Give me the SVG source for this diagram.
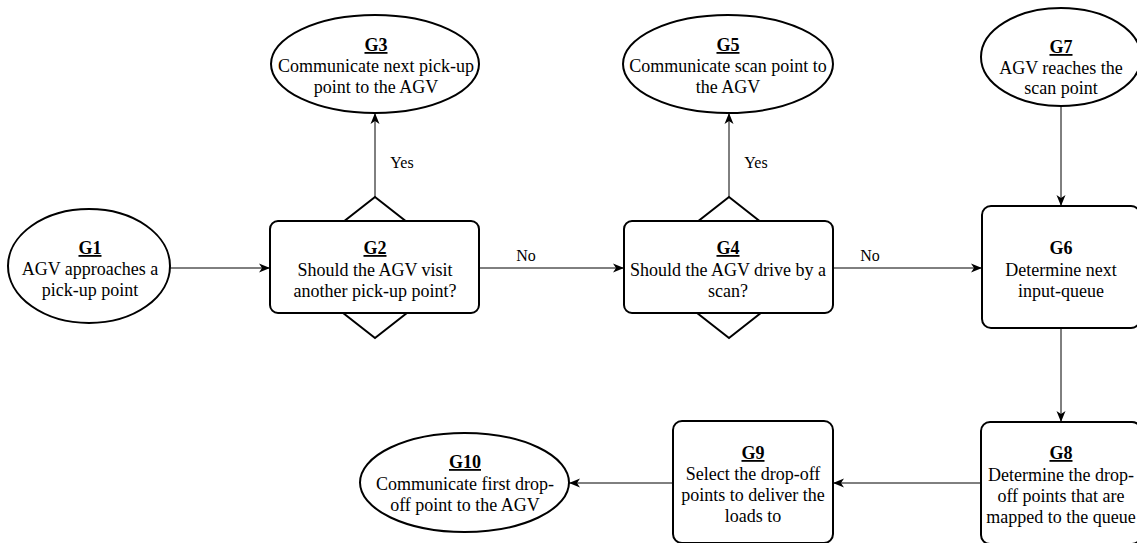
<svg xmlns="http://www.w3.org/2000/svg" width="1137" height="543" viewBox="0 0 1137 543" font-family="'Liberation Serif', 'Times New Roman', 'DejaVu Serif', serif">
  <style>
    .node { fill: #ffffff; stroke: #000000; stroke-width: 2; }
    .edge { fill: none; stroke: #000000; stroke-width: 1; }
    text { font-family: 'Liberation Serif', 'Times New Roman', 'DejaVu Serif', serif; font-size: 18px; fill: #000000; text-anchor: middle; }
    .id { font-weight: bold; text-decoration: underline; }
    .idplain { font-weight: bold; }
    .lbl { font-size: 16px; }
  </style>
  <defs>
    <marker id="arrow" markerUnits="userSpaceOnUse" markerWidth="11" markerHeight="11" viewBox="0 0 11 11" refX="11" refY="5.5" orient="auto">
      <path d="M0,1 L11,5.5 L0,10 L3,5.5 Z" fill="#000000"/>
    </marker>
  </defs>
  <rect width="1137" height="543" fill="#ffffff"/>

  <!-- connectors -->
  <g id="connectors">
    <line class="edge" x1="170" y1="268" x2="270" y2="268" marker-end="url(#arrow)"/>
    <line class="edge" x1="375" y1="197" x2="375" y2="113" marker-end="url(#arrow)"/>
    <line class="edge" x1="479" y1="268" x2="624" y2="268" marker-end="url(#arrow)"/>
    <line class="edge" x1="729" y1="197" x2="729" y2="113" marker-end="url(#arrow)"/>
    <line class="edge" x1="833" y1="268" x2="982" y2="268" marker-end="url(#arrow)"/>
    <line class="edge" x1="1061" y1="106" x2="1061" y2="206" marker-end="url(#arrow)"/>
    <line class="edge" x1="1061" y1="328" x2="1061" y2="422" marker-end="url(#arrow)"/>
    <line class="edge" x1="981" y1="483" x2="833" y2="483" marker-end="url(#arrow)"/>
    <line class="edge" x1="673" y1="483" x2="569" y2="483" marker-end="url(#arrow)"/>
    <text class="lbl" x="402" y="168">Yes</text>
    <text class="lbl" x="756" y="168">Yes</text>
    <text class="lbl" x="526" y="261">No</text>
    <text class="lbl" x="870" y="261">No</text>
  </g>

  <g id="G1">
    <ellipse class="node" cx="89" cy="266" rx="81" ry="57"/>
    <text class="id" x="90" y="254">G1</text>
    <text x="90" y="275">AGV approaches a</text>
    <text x="90" y="296">pick-up point</text>
  </g>

  <g id="G2">
    <polygon class="node" points="375,197 465,267.5 375,338 285,267.5"/>
    <rect class="node" x="270" y="221" width="209" height="92" rx="8"/>
    <text class="id" x="375" y="254">G2</text>
    <text x="375" y="276">Should the AGV visit</text>
    <text x="375" y="297">another pick-up point?</text>
  </g>

  <g id="G3">
    <ellipse class="node" cx="375" cy="64" rx="104" ry="49"/>
    <text class="id" x="376" y="51">G3</text>
    <text x="376" y="72">Communicate next pick-up</text>
    <text x="376" y="93">point to the AGV</text>
  </g>

  <g id="G4">
    <polygon class="node" points="729,197 819,267.5 729,338 639,267.5"/>
    <rect class="node" x="624" y="221" width="209" height="92" rx="8"/>
    <text class="id" x="728" y="254">G4</text>
    <text x="728" y="276">Should the AGV drive by a</text>
    <text x="728" y="297">scan?</text>
  </g>

  <g id="G5">
    <ellipse class="node" cx="728" cy="64" rx="105" ry="49"/>
    <text class="id" x="728" y="51">G5</text>
    <text x="728" y="72">Communicate scan point to</text>
    <text x="728" y="93">the AGV</text>
  </g>

  <g id="G6">
    <rect class="node" x="982" y="206" width="158" height="122" rx="9"/>
    <text class="idplain" x="1061" y="254">G6</text>
    <text x="1061" y="276">Determine next</text>
    <text x="1061" y="297">input-queue</text>
  </g>

  <g id="G7">
    <ellipse class="node" cx="1061" cy="57" rx="80" ry="49"/>
    <text class="id" x="1061" y="53">G7</text>
    <text x="1061" y="74">AGV reaches the</text>
    <text x="1061" y="94">scan point</text>
  </g>

  <g id="G8">
    <rect class="node" x="981" y="422" width="160" height="122" rx="9"/>
    <text class="id" x="1061" y="459">G8</text>
    <text x="1061" y="481">Determine the drop-</text>
    <text x="1061" y="502">off points that are</text>
    <text x="1061" y="523">mapped to the queue</text>
  </g>

  <g id="G9">
    <rect class="node" x="673" y="421" width="160" height="122" rx="9"/>
    <text class="id" x="753" y="459">G9</text>
    <text x="753" y="480">Select the drop-off</text>
    <text x="753" y="501">points to deliver the</text>
    <text x="753" y="522">loads to</text>
  </g>

  <g id="G10">
    <ellipse class="node" cx="464.5" cy="482.5" rx="104.5" ry="49.5"/>
    <text class="id" x="465" y="468">G10</text>
    <text x="465" y="490">Communicate first drop-</text>
    <text x="465" y="511">off point to the AGV</text>
  </g>
</svg>
